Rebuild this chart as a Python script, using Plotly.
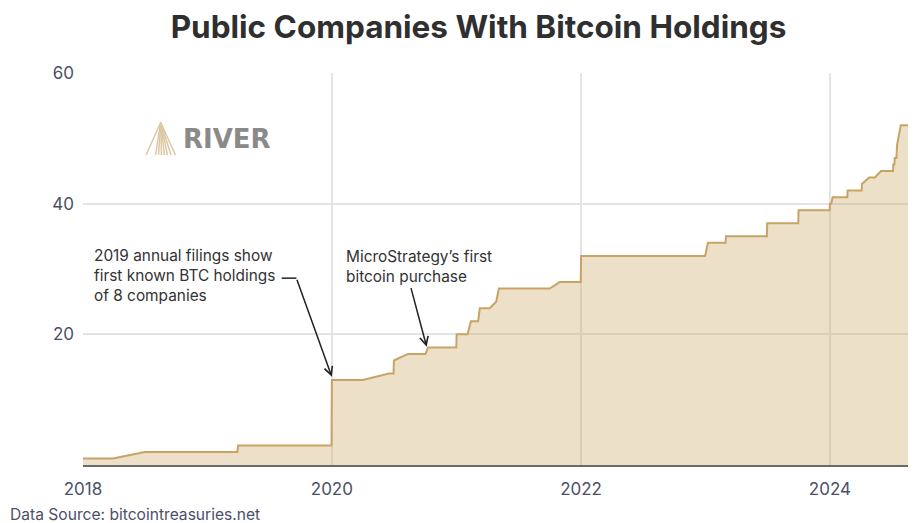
import plotly.graph_objects as go

# ---- data ----
dates = [
    '2018-01-01', '2018-03-30', '2018-07-01', '2019-03-30', '2019-04-01',
    '2019-12-31', '2020-01-01', '2020-04-01', '2020-06-16', '2020-06-30',
    '2020-07-01', '2020-08-11', '2020-10-02', '2020-10-09', '2020-12-31',
    '2021-01-01', '2021-02-02', '2021-02-12', '2021-03-05', '2021-03-10',
    '2021-04-08', '2021-04-27', '2021-05-05', '2021-10-01', '2021-10-30',
    '2021-12-31', '2022-01-01', '2022-12-31', '2023-01-08', '2023-03-01',
    '2023-03-02', '2023-06-30', '2023-07-01', '2023-09-30', '2023-10-01',
    '2023-12-31', '2024-01-01', '2024-01-05', '2024-01-09', '2024-02-21',
    '2024-02-22', '2024-04-03', '2024-04-04', '2024-04-25', '2024-05-12',
    '2024-05-30', '2024-07-04', '2024-07-05', '2024-07-08', '2024-07-09',
    '2024-07-14', '2024-07-16', '2024-07-27', '2024-08-17',
]
companies = [
    1, 1, 2, 2, 3,
    3, 13, 13, 14, 14,
    16, 17, 17, 18, 18,
    20, 20, 22, 22, 24,
    24, 25, 27, 27, 28,
    28, 32, 32, 34, 34,
    35, 35, 37, 37, 39,
    39, 40, 40, 41, 41,
    42, 42, 43, 44, 44,
    45, 45, 46, 46, 47,
    47, 49, 52, 52,
]

x_tick_vals = ['2018-01-01', '2020-01-01', '2022-01-01', '2024-01-01']
x_tick_text = ['2018', '2020', '2022', '2024']
y_tick_vals = [20, 40, 60]
y_tick_text = ['20', '40', '60']

x_range = ['2018-01-01', '2024-08-17']
y_range = [0, 60]

title_text = 'Public Companies With Bitcoin Holdings'
source_text = 'Data Source: bitcointreasuries.net'
note1_text = '2019 annual filings show<br>first known BTC holdings<br>of 8 companies'
note2_text = 'MicroStrategy\u2019s first<br>bitcoin purchase'
logo_text = 'RIVER'

# arrow geometry (data coords)
arrow1_head = ('2020-01-01', 13.5)
arrow1_tail = ('2019-09-19', 28.6)
arrow1_elbow_start = ('2019-08-07', 28.6)
arrow2_head = ('2020-10-05', 18.1)
arrow2_tail = ('2020-08-19', 27.3)

# ---- layout geometry ----
# the page has an 8px body margin, so the figure starts at (8, 8) of the window
OFF = 8
W, H = 918 - OFF, 523 - OFF
L, T = 83 - OFF, 73 - OFF
R = W - (908 - OFF)
B = H - (465 - OFF)
PW, PH = W - L - R, H - T - B

def px(x):
    """window pixel x -> paper x"""
    return (x - OFF - L) / PW

def py(y):
    """window pixel y -> paper y"""
    return (H - B - (y - OFF)) / PH

TICK_COLOR = '#4b5068'
TEXT_COLOR = '#333333'
LINE_COLOR = '#c9a366'
FILL_COLOR = 'rgba(196,160,90,0.33)'
GRID_COLOR = '#e4e4e4'

fig = go.Figure()
fig.add_trace(go.Scatter(
    x=dates, y=companies, mode='lines',
    line=dict(color=LINE_COLOR, width=2),
    fill='tozeroy', fillcolor=FILL_COLOR,
    hoverinfo='x+y', showlegend=False,
))

shapes = []
# elbow of first arrow
shapes.append(dict(type='line', xref='x', yref='y',
                   x0=arrow1_elbow_start[0], y0=arrow1_elbow_start[1],
                   x1=arrow1_tail[0], y1=arrow1_tail[1],
                   line=dict(color='#222222', width=1.5)))

# logo icon (fan of lines)
apex = (160.7, 122.5)
base_y = 155
for bx in [146, 155.5, 158.5, 161.5, 164.5, 167.5, 171, 175.5]:
    shapes.append(dict(type='line', xref='paper', yref='paper',
                       x0=px(apex[0]), y0=py(apex[1]), x1=px(bx), y1=py(base_y),
                       line=dict(color='#dcc8a2', width=1.5)))

annotations = [
    dict(text=note1_text, xref='paper', yref='paper', x=px(92), y=py(275.7),
         xanchor='left', yanchor='middle', align='left', showarrow=False,
         font=dict(family='Inter', size=15.4, color=TEXT_COLOR)),
    dict(text=note2_text, xref='paper', yref='paper', x=px(344), y=py(266.2),
         xanchor='left', yanchor='middle', align='left', showarrow=False,
         font=dict(family='Inter', size=15.4, color=TEXT_COLOR)),
    dict(text='', x=arrow1_head[0], y=arrow1_head[1], xref='x', yref='y',
         ax=arrow1_tail[0], ay=arrow1_tail[1], axref='x', ayref='y',
         showarrow=True, arrowhead=5, arrowsize=1.1, arrowwidth=1.5,
         arrowcolor='#222222', standoff=0, startstandoff=0),
    dict(text='', x=arrow2_head[0], y=arrow2_head[1], xref='x', yref='y',
         ax=arrow2_tail[0], ay=arrow2_tail[1], axref='x', ayref='y',
         showarrow=True, arrowhead=5, arrowsize=1.1, arrowwidth=1.5,
         arrowcolor='#222222', standoff=0, startstandoff=0),
    dict(text=source_text, xref='paper', yref='paper', x=px(8), y=py(514),
         xanchor='left', yanchor='middle', showarrow=False,
         font=dict(family='Inter', size=15.6, color=TICK_COLOR)),
    dict(text='<b>' + logo_text + '</b>', xref='paper', yref='paper', x=px(181), y=py(138.5),
         xanchor='left', yanchor='middle', showarrow=False,
         font=dict(family='DejaVu Sans', size=26, color='#8a8a8a')),
]

fig.update_layout(
    width=W, height=H,
    margin=dict(l=L, r=R, t=T, b=B, pad=0),
    paper_bgcolor='white', plot_bgcolor='white',
    title=dict(text='<b>' + title_text + '</b>', x=px(478.5), xref='paper',
               xanchor='center', y=1 - (27 - OFF) / H, yref='container', yanchor='middle',
               font=dict(family='Inter', size=31.5, color='#2f2f2f')),
    xaxis=dict(range=x_range, type='date', tickvals=x_tick_vals, ticktext=x_tick_text,
               showgrid=True, gridcolor=GRID_COLOR, gridwidth=1.5,
               showline=True, linecolor='#6a6a6a', linewidth=2,
               ticks='', ticklabelstandoff=8, zeroline=False,
               tickfont=dict(family='Inter', size=17, color=TICK_COLOR)),
    yaxis=dict(range=y_range, tickvals=y_tick_vals, ticktext=y_tick_text,
               showgrid=True, gridcolor=GRID_COLOR, gridwidth=1.5,
               showline=False, zeroline=False, ticks='', ticklabelstandoff=8,
               tickfont=dict(family='Inter', size=17, color=TICK_COLOR)),
    shapes=shapes,
    annotations=annotations,
)

fig.write_html('out.html')
